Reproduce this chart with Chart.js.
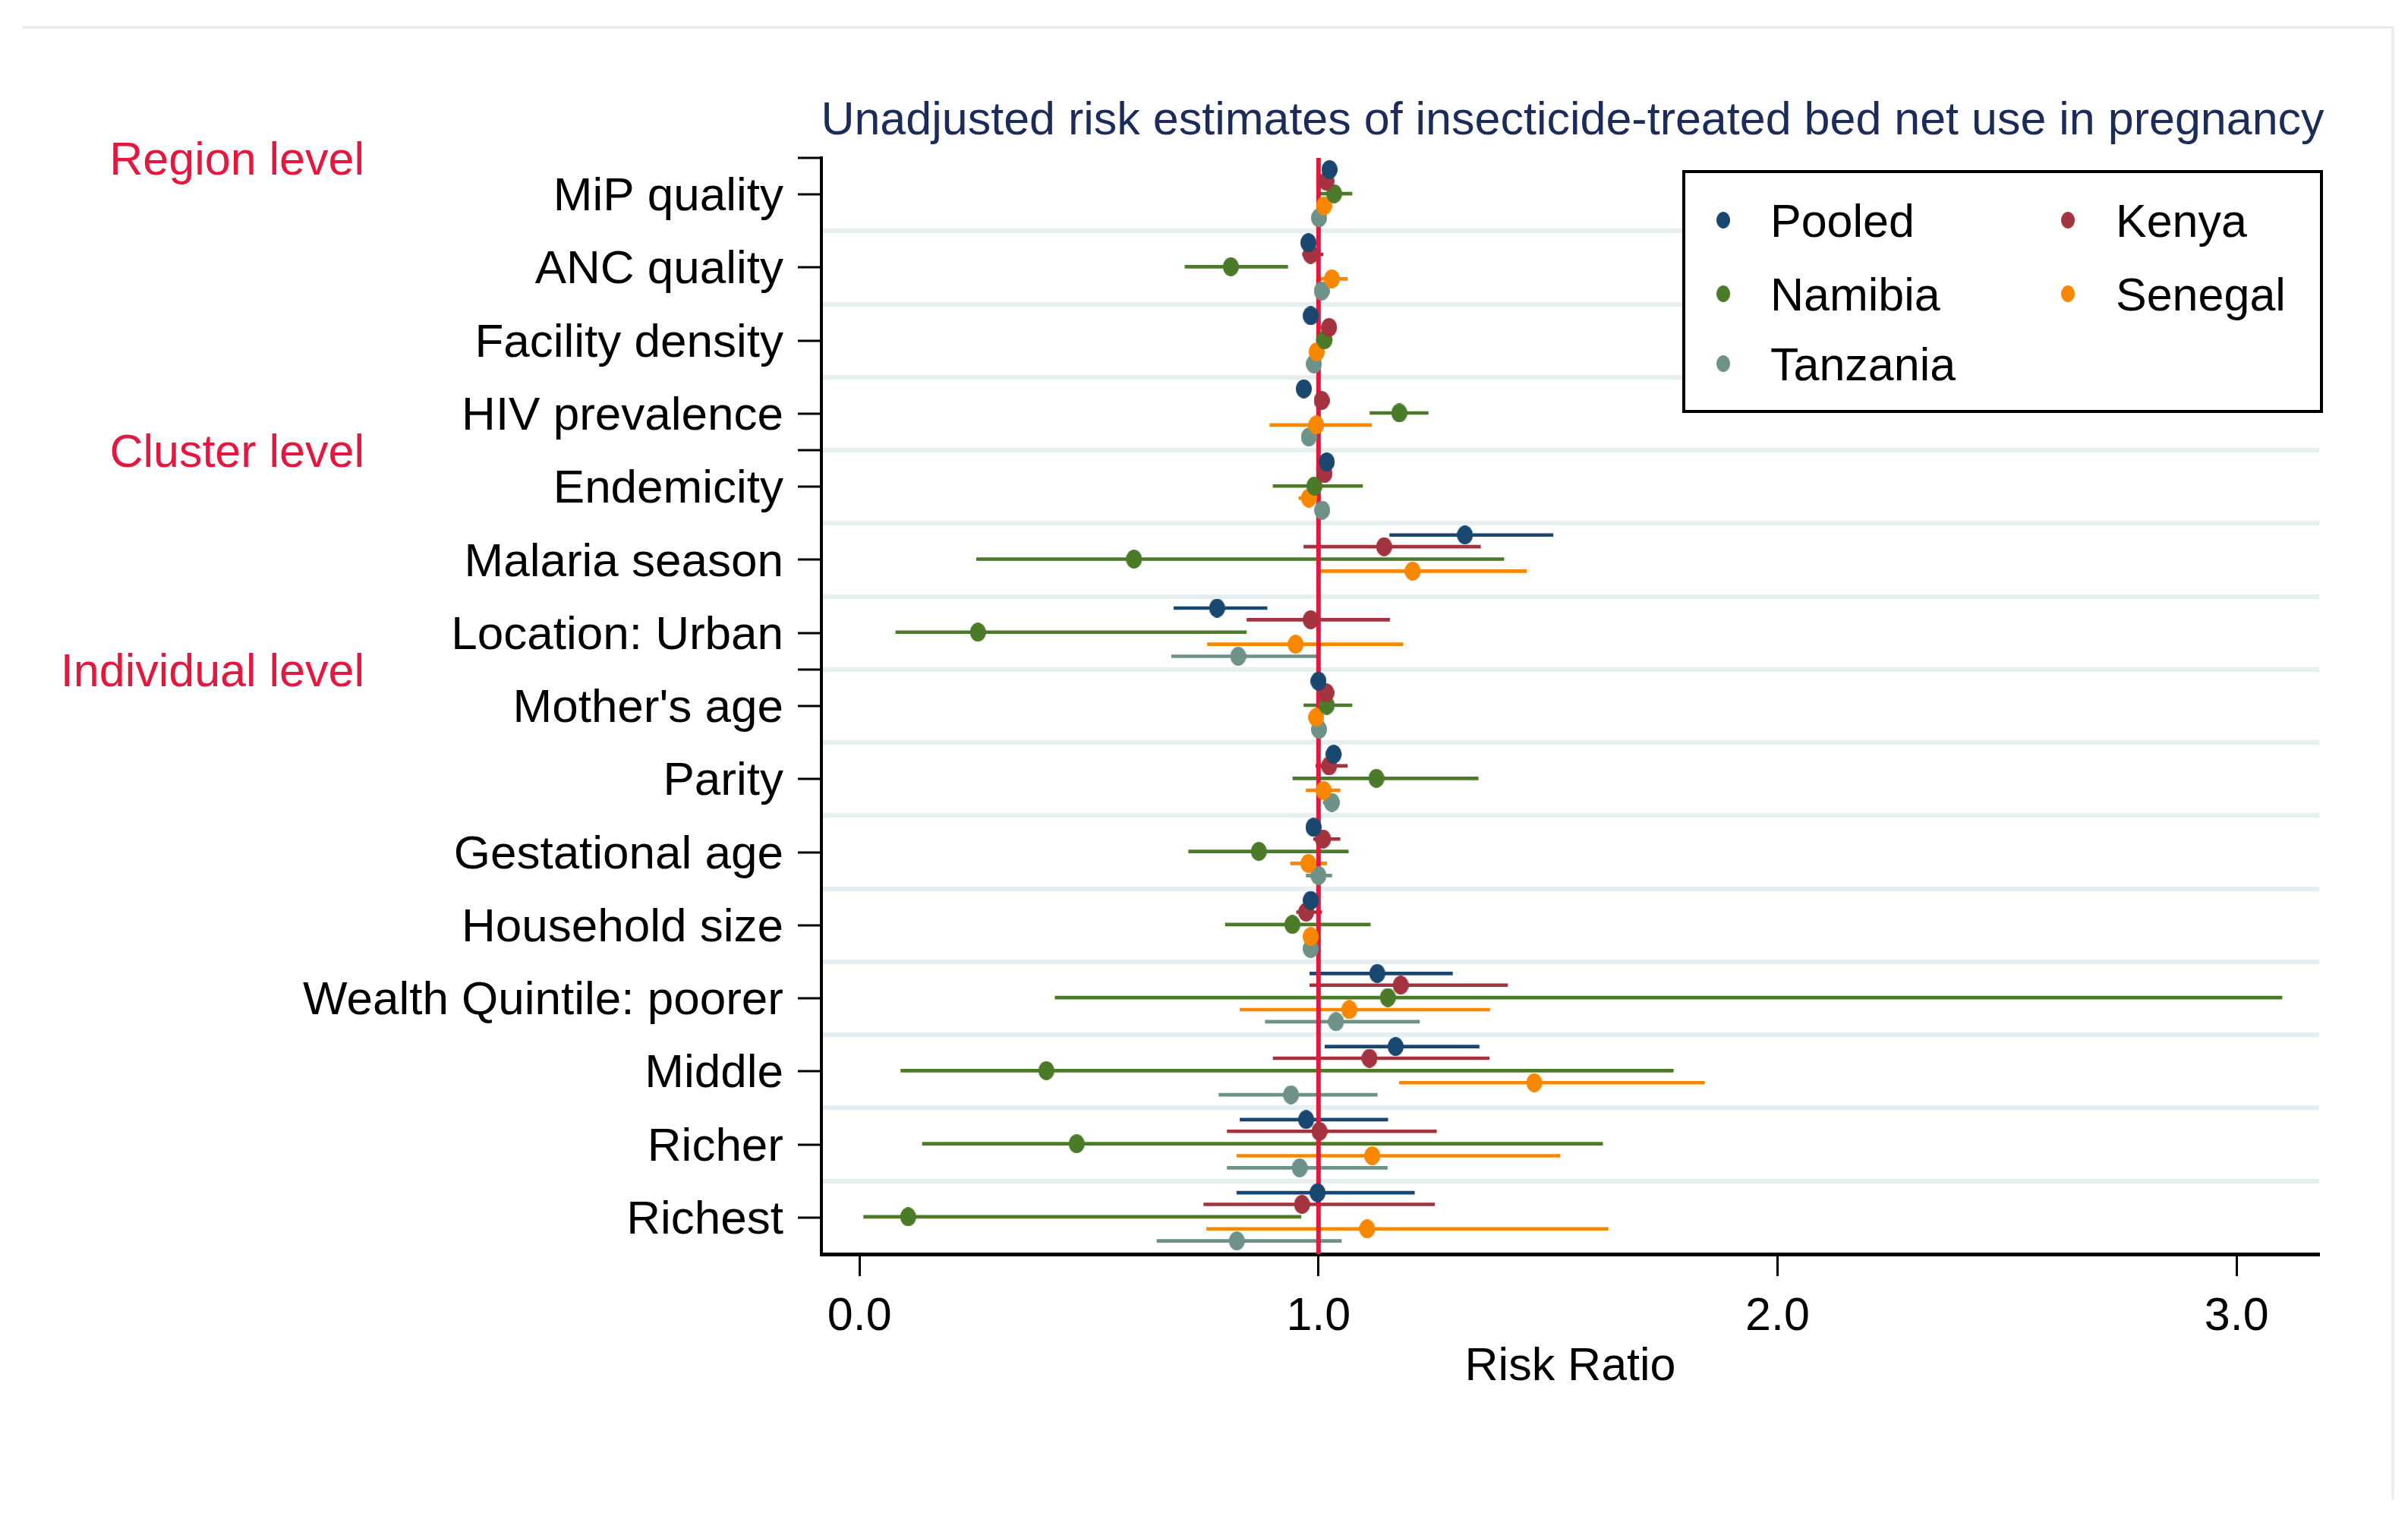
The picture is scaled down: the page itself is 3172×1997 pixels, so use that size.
<!DOCTYPE html>
<html>
<head>
<meta charset="utf-8">
<script src="https://cdn.jsdelivr.net/npm/chart.js@4.4.1/dist/chart.umd.min.js"></script>
<style>
  html, body { margin: 0; padding: 0; background: #fff; }
  #wrap { position: relative; width: 3172px; height: 1997px; }
</style>
</head>
<body>
<div id="wrap"><canvas id="rrChart" width="3172" height="1997"></canvas></div>
<script>
// rows of the forest plot, top to bottom
const categories = [
  "MiP quality", "ANC quality", "Facility density", "HIV prevalence",
  "Endemicity", "Malaria season", "Location: Urban",
  "Mother's age", "Parity", "Gestational age", "Household size",
  "Wealth Quintile: poorer", "Middle", "Richer", "Richest"
];
const groupLabels = ["Region level", "Cluster level", "Individual level"];
const groupAt = [-0.5, 3.5, 6.5];
const chartTitle = "Unadjusted risk estimates of insecticide-treated bed net use in pregnancy";
const xTicks = [0, 1, 2, 3];
const refValue = 1;

const seriesNames = ["Pooled", "Kenya", "Namibia", "Senegal", "Tanzania"];

const pooledRR = [1.024, 0.978, 0.983, 0.968, 1.018, 1.319, 0.779, 1.000, 1.033, 0.989, 0.983, 1.128, 1.168, 0.973, 0.998];
const pooledLo = [1.010, 0.965, 0.970, 0.955, 1.005, 1.155, 0.685, 0.990, 1.020, 0.975, 0.970, 0.981, 1.014, 0.829, 0.822];
const pooledHi = [1.040, 0.990, 0.995, 0.980, 1.030, 1.511, 0.888, 1.010, 1.050, 1.000, 0.995, 1.292, 1.350, 1.151, 1.209];

const kenyaRR = [1.017, 0.983, 1.023, 1.007, 1.013, 1.143, 0.983, 1.017, 1.023, 1.010, 0.973, 1.179, 1.111, 1.002, 0.964];
const kenyaLo = [1.000, 0.965, 1.010, 0.995, 1.000, 0.968, 0.844, 1.000, 0.994, 0.989, 0.952, 0.981, 0.901, 0.801, 0.750];
const kenyaHi = [1.030, 1.010, 1.035, 1.020, 1.025, 1.353, 1.155, 1.030, 1.063, 1.047, 1.007, 1.412, 1.372, 1.257, 1.253];

const namibiaRR = [1.034, 0.809, 1.013, 1.176, 0.991, 0.598, 0.258, 1.018, 1.126, 0.870, 0.943, 1.151, 0.407, 0.473, 0.106];
const namibiaLo = [1.002, 0.709, 0.995, 1.112, 0.901, 0.255, 0.079, 0.968, 0.944, 0.717, 0.797, 0.426, 0.090, 0.137, 0.009];
const namibiaHi = [1.073, 0.933, 1.030, 1.239, 1.096, 1.404, 0.843, 1.073, 1.348, 1.065, 1.113, 3.099, 1.773, 1.619, 0.962];

const senegalRR = [1.012, 1.029, 0.996, 0.995, 0.979, 1.205, 0.950, 0.995, 1.011, 0.978, 0.983, 1.067, 1.470, 1.117, 1.106];
const senegalLo = [1.000, 1.003, 0.985, 0.894, 0.957, 1.002, 0.758, 0.980, 0.973, 0.939, 0.970, 0.829, 1.176, 0.822, 0.756];
const senegalHi = [1.025, 1.063, 1.008, 1.115, 1.005, 1.453, 1.184, 1.010, 1.047, 1.018, 0.995, 1.373, 1.841, 1.526, 1.631];

const tanzaniaRR = [1.001, 1.007, 0.990, 0.979, 1.008, null, 0.825, 1.001, 1.029, 1.000, 0.983, 1.038, 0.940, 0.959, 0.822];
const tanzaniaLo = [0.990, 0.995, 0.980, 0.965, 0.995, null, 0.680, 0.990, 1.010, 0.973, 0.970, 0.884, 0.783, 0.801, 0.648];
const tanzaniaHi = [1.012, 1.020, 1.000, 0.990, 1.020, null, 0.999, 1.012, 1.045, 1.029, 0.995, 1.220, 1.128, 1.150, 1.050];

const estimates = [pooledRR, kenyaRR, namibiaRR, senegalRR, tanzaniaRR];
const lowers = [pooledLo, kenyaLo, namibiaLo, senegalLo, tanzaniaLo];
const uppers = [pooledHi, kenyaHi, namibiaHi, senegalHi, tanzaniaHi];

// styling
const colors = ["#1a476f", "#a3333f", "#4b7b29", "#f88700", "#6e9189"];
const rowOffsets = [-0.34, -0.18, -0.01, 0.155, 0.32];
const FONT = '"Liberation Sans", Arial, sans-serif';
const RED = "#e5173f";

function ellipseMarker(color, w, h) {
  const c = document.createElement("canvas");
  c.width = w; c.height = h;
  const g = c.getContext("2d");
  g.fillStyle = color;
  g.beginPath();
  g.ellipse(w / 2, h / 2, w / 2, h / 2, 0, 0, Math.PI * 2);
  g.fill();
  return c;
}
const markers = colors.map(c => ellipseMarker(c, 21, 25));

const datasets = [];
seriesNames.forEach((name, s) => {
  const rr = estimates[s], lo = lowers[s], hi = uppers[s];
  datasets.push({
    type: "bar",
    label: name + " CI",
    indexAxis: "y",
    data: rr.map((v, i) => v == null ? null : { x: [lo[i], hi[i]], y: i + rowOffsets[s] }).filter(Boolean),
    backgroundColor: colors[s],
    barThickness: 4,
    grouped: false,
    order: 3
  });
  datasets.push({
    type: "scatter",
    label: name,
    data: rr.map((v, i) => v == null ? null : { x: v, y: i + rowOffsets[s] }).filter(Boolean),
    pointStyle: markers[s],
    pointRadius: 10,
    order: 1
  });
});
datasets.push({
  type: "line",
  label: "ref",
  data: [{ x: refValue, y: -0.5 }, { x: refValue, y: 14.5 }],
  borderColor: RED,
  borderWidth: 6,
  pointRadius: 0,
  order: 2
});

const yTickValues = Array.from({ length: 30 }, (_, k) => k / 2 - 0.5);

const extras = {
  id: "extras",
  afterDraw(chart) {
    const { ctx, chartArea, scales } = chart;
    ctx.save();
    // faint frame
    ctx.strokeStyle = "#e3eaec";
    ctx.lineWidth = 3;
    ctx.beginPath();
    ctx.moveTo(30, 36); ctx.lineTo(3152, 36); ctx.lineTo(3152, 1975);
    ctx.stroke();

    ctx.textBaseline = "alphabetic";
    // title
    ctx.font = "61px " + FONT;
    ctx.fillStyle = "#1b2c5a";
    ctx.textAlign = "center";
    ctx.fillText(chartTitle, (chartArea.left + chartArea.right) / 2 + 3, 177);
    // group labels
    ctx.fillStyle = RED;
    ctx.textAlign = "right";
    groupLabels.forEach((t, k) => ctx.fillText(t, 480, scales.y.getPixelForValue(groupAt[k]) + 22));
    // legend
    ctx.fillStyle = "#fff";
    ctx.fillRect(2218, 226, 840, 316);
    ctx.strokeStyle = "#000";
    ctx.lineWidth = 4;
    ctx.strokeRect(2218, 226, 840, 316);
    const cols = [[2270, 2332], [2724, 2787]];
    const rows = [290, 387, 479];
    ctx.textAlign = "left";
    ctx.fillStyle = "#000";
    seriesNames.forEach((n, s) => {
      const c = cols[s % 2], y = rows[Math.floor(s / 2)];
      ctx.drawImage(markers[s], c[0] - 9, y - 11, 18, 22);
      ctx.fillText(n, c[1], y + 22);
    });
    ctx.restore();
  }
};

new Chart(document.getElementById("rrChart"), {
  type: "scatter",
  data: { datasets },
  plugins: [extras],
  options: {
    responsive: false,
    devicePixelRatio: 1,
    animation: false,
    layout: { padding: { left: 0, top: 208, right: 117, bottom: 145 } },
    plugins: { legend: { display: false }, tooltip: { enabled: false }, title: { display: false } },
    scales: {
      x: {
        type: "linear",
        min: -0.083,
        max: 3.18,
        offset: false,
        beginAtZero: false,
        afterBuildTicks: s => { s.ticks = xTicks.map(v => ({ value: v })); },
        afterFit: s => { s.height = 200; },
        ticks: {
          autoSkip: false, maxRotation: 0, padding: 18, color: "#000",
          font: { family: FONT, size: 61 },
          callback: v => v.toFixed(1)
        },
        grid: { drawOnChartArea: false, offset: false, tickLength: 29, tickWidth: 3, tickColor: "#000" },
        border: { display: true, color: "#000", width: 5 },
        title: { display: true, text: "Risk Ratio", color: "#000", font: { family: FONT, size: 61 }, padding: { top: 0, bottom: 14 } }
      },
      y: {
        type: "linear",
        reverse: true,
        min: -0.5,
        max: 14.5,
        offset: false,
        afterBuildTicks: s => { s.ticks = yTickValues.map(v => ({ value: v })); },
        afterFit: s => { s.width = 1082; },
        ticks: {
          autoSkip: false, padding: 19, color: "#000", labelOffset: 4,
          font: { family: FONT, size: 62 },
          callback: v => Number.isInteger(v) ? categories[v] : ""
        },
        grid: {
          offset: false,
          lineWidth: 6,
          color: c => (c.tick && !Number.isInteger(c.tick.value) && c.tick.value > 0) ? "#e6eef0" : "rgba(0,0,0,0)",
          tickLength: 31,
          tickWidth: 3,
          tickColor: c => (c.tick && (Number.isInteger(c.tick.value) || groupAt.includes(c.tick.value))) ? "#000" : "rgba(0,0,0,0)"
        },
        border: { display: true, color: "#000", width: 4 }
      }
    }
  }
});
</script>
</body>
</html>
